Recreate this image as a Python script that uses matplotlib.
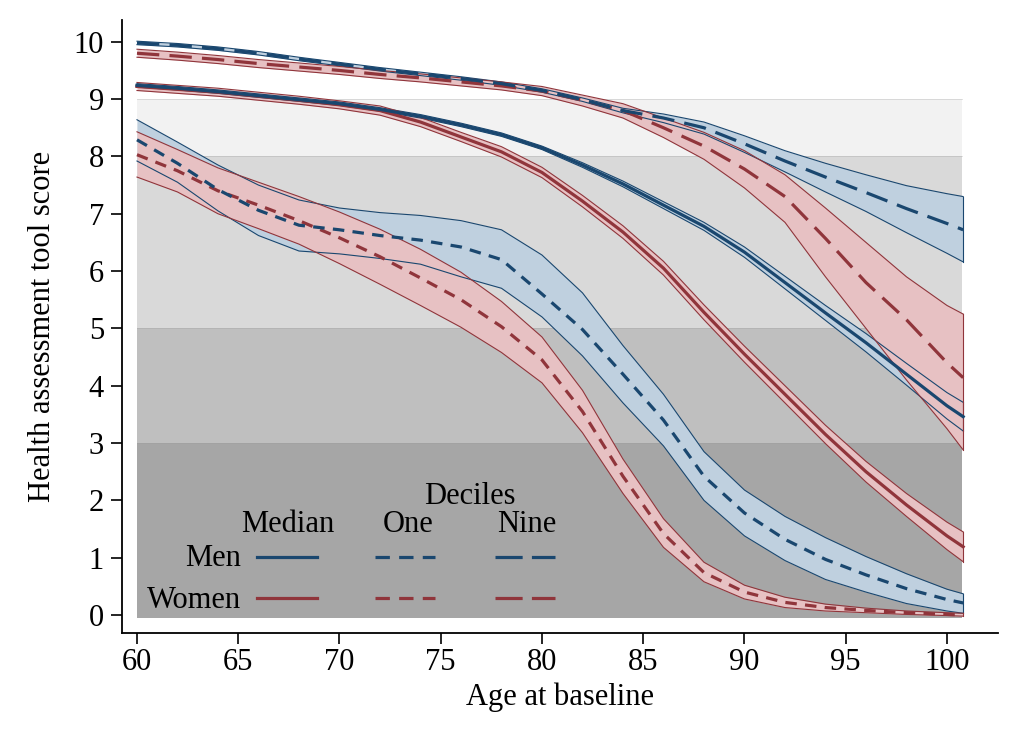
import numpy as np
import matplotlib
matplotlib.use("Agg")
import matplotlib.pyplot as plt
from matplotlib.lines import Line2D

plt.rcParams['font.family'] = ['Liberation Serif', 'DejaVu Serif']

# ---------------- data ----------------
age = [60, 62, 64, 66, 68, 70, 72, 74, 76, 78, 80, 82, 84, 86, 88, 90, 92, 94, 96, 98, 100, 100.8]

men_median = [9.24, 9.19, 9.13, 9.06, 8.99, 8.92, 8.82, 8.70, 8.55, 8.38, 8.15, 7.85, 7.52, 7.15, 6.78, 6.33, 5.80, 5.27, 4.75, 4.20, 3.65, 3.46]
men_median_hw = [0.03, 0.03, 0.03, 0.03, 0.03, 0.03, 0.03, 0.03, 0.03, 0.03, 0.03, 0.04, 0.05, 0.06, 0.07, 0.09, 0.11, 0.13, 0.16, 0.19, 0.23, 0.25]

women_median = [9.22, 9.17, 9.12, 9.05, 8.98, 8.90, 8.80, 8.60, 8.34, 8.08, 7.72, 7.22, 6.68, 6.05, 5.28, 4.55, 3.85, 3.15, 2.50, 1.92, 1.38, 1.19]
women_median_hw = [0.07, 0.07, 0.07, 0.07, 0.07, 0.07, 0.08, 0.08, 0.08, 0.09, 0.09, 0.10, 0.11, 0.12, 0.13, 0.14, 0.15, 0.16, 0.18, 0.20, 0.24, 0.26]

men_d1 = [8.29, 7.88, 7.42, 7.06, 6.80, 6.72, 6.62, 6.54, 6.42, 6.20, 5.60, 4.98, 4.20, 3.40, 2.42, 1.78, 1.32, 0.97, 0.70, 0.46, 0.27, 0.21]
men_d1_hi = [8.64, 8.25, 7.85, 7.50, 7.24, 7.10, 7.02, 6.97, 6.88, 6.72, 6.28, 5.62, 4.70, 3.85, 2.85, 2.18, 1.72, 1.35, 1.02, 0.72, 0.45, 0.37]
men_d1_lo = [7.92, 7.55, 7.05, 6.62, 6.35, 6.30, 6.22, 6.12, 5.90, 5.70, 5.20, 4.52, 3.70, 2.95, 2.00, 1.38, 0.95, 0.62, 0.40, 0.20, 0.07, 0.03]

women_d1 = [8.03, 7.75, 7.40, 7.15, 6.88, 6.58, 6.25, 5.88, 5.50, 5.03, 4.45, 3.55, 2.42, 1.42, 0.74, 0.40, 0.22, 0.13, 0.08, 0.04, 0.01, 0.00]
women_d1_hi = [8.43, 8.12, 7.80, 7.55, 7.30, 7.03, 6.73, 6.38, 5.98, 5.47, 4.85, 3.92, 2.72, 1.68, 0.92, 0.52, 0.31, 0.19, 0.12, 0.07, 0.04, 0.03]
women_d1_lo = [7.64, 7.38, 7.00, 6.74, 6.47, 6.13, 5.77, 5.40, 5.02, 4.58, 4.05, 3.18, 2.12, 1.18, 0.58, 0.28, 0.13, 0.07, 0.04, 0.01, -0.01, -0.02]

men_d9 = [9.98, 9.94, 9.88, 9.80, 9.70, 9.61, 9.52, 9.44, 9.36, 9.27, 9.15, 8.99, 8.80, 8.67, 8.50, 8.22, 7.92, 7.64, 7.37, 7.09, 6.83, 6.72]
men_d9_hi = [10.01, 9.97, 9.91, 9.83, 9.73, 9.64, 9.55, 9.47, 9.39, 9.30, 9.18, 9.02, 8.84, 8.74, 8.60, 8.36, 8.10, 7.88, 7.68, 7.49, 7.35, 7.30]
men_d9_lo = [9.95, 9.91, 9.85, 9.77, 9.67, 9.58, 9.49, 9.41, 9.33, 9.24, 9.12, 8.96, 8.76, 8.59, 8.39, 8.07, 7.73, 7.38, 7.04, 6.67, 6.31, 6.16]

women_d9 = [9.80, 9.75, 9.69, 9.62, 9.56, 9.50, 9.43, 9.37, 9.30, 9.23, 9.14, 8.98, 8.80, 8.50, 8.18, 7.78, 7.30, 6.57, 5.80, 5.15, 4.40, 4.14]
women_d9_hi = [9.87, 9.82, 9.76, 9.69, 9.63, 9.57, 9.50, 9.44, 9.37, 9.30, 9.22, 9.07, 8.92, 8.67, 8.42, 8.10, 7.68, 7.10, 6.50, 5.90, 5.40, 5.25]
women_d9_lo = [9.73, 9.68, 9.62, 9.55, 9.49, 9.43, 9.36, 9.30, 9.23, 9.16, 9.06, 8.88, 8.67, 8.33, 7.95, 7.45, 6.85, 5.90, 5.00, 4.10, 3.25, 2.88]

# background score bands
band_bounds = [-0.05, 3, 5, 8, 9]
band_colors = ['#a6a6a6', '#bfbfbf', '#d9d9d9', '#f2f2f2']
band_x = [60, 100.75]

x_ticks = [60, 65, 70, 75, 80, 85, 90, 95, 100]
y_ticks = [0, 1, 2, 3, 4, 5, 6, 7, 8, 9, 10]

# ---------------- styling ----------------
BLUE = '#1a476f'
RED = '#90353b'
BLUE_FILL = '#bfd0df'
RED_FILL = '#e7c1c3'
LW = 2.3
SHORT = (3.6, 2.6)
LONG = (7.0, 3.2)

fig = plt.figure(figsize=(10.24, 7.45), dpi=100)
ax = fig.add_axes([122 / 1024, 112 / 745, 876 / 1024, 613 / 745])

for i, c in enumerate(band_colors):
    ax.fill_between(band_x, band_bounds[i], band_bounds[i + 1], color=c, lw=0, zorder=0)
    ax.plot(band_x, [band_bounds[i + 1]] * 2, color='#9a9a9a', lw=0.6, alpha=0.35, zorder=0.5)

x = np.array(age)


def band(lo, hi, fill, edge):
    ax.fill_between(x, lo, hi, color=fill, lw=0, zorder=1)
    ax.plot(x, lo, color=edge, lw=0.8, zorder=1.1)
    ax.plot(x, hi, color=edge, lw=0.8, zorder=1.1)
    ax.plot([x[-1], x[-1]], [lo[-1], hi[-1]], color=edge, lw=0.8, zorder=1.1)


mm = np.array(men_median); mhw = np.array(men_median_hw)
wm = np.array(women_median); whw = np.array(women_median_hw)

# blue bands first, red bands over them
band(mm - mhw, mm + mhw, BLUE_FILL, BLUE)
band(men_d1_lo, men_d1_hi, BLUE_FILL, BLUE)
band(men_d9_lo, men_d9_hi, BLUE_FILL, BLUE)
band(wm - whw, wm + whw, RED_FILL, RED)
band(women_d1_lo, women_d1_hi, RED_FILL, RED)
band(women_d9_lo, women_d9_hi, RED_FILL, RED)

ax.plot(x, women_median, color=RED, lw=LW, zorder=3)
ax.plot(x, women_d1, color=RED, lw=LW, dashes=SHORT, zorder=3)
ax.plot(x, women_d9, color=RED, lw=LW, dashes=LONG, zorder=3)
ax.plot(x, men_median, color=BLUE, lw=LW, zorder=3.1)
ax.plot(x, men_d1, color=BLUE, lw=LW, dashes=SHORT, zorder=3.1)
ax.plot(x, men_d9, color=BLUE, lw=LW, dashes=LONG, zorder=3.1)

ax.set_xlim(59.26, 102.52)
ax.set_ylim(-0.314, 10.38)
ax.set_xticks(x_ticks)
ax.set_yticks(y_ticks)
for s in ['top', 'right']:
    ax.spines[s].set_visible(False)
for s in ['left', 'bottom']:
    ax.spines[s].set_linewidth(1.3)
ax.tick_params(axis='both', direction='out', length=8, width=1.2, labelsize=22, colors='black')
ax.tick_params(axis='y', pad=5)
ax.tick_params(axis='x', pad=3)
ax.set_xlabel('Age at baseline', fontsize=22, labelpad=4)
ax.set_ylabel('Health assessment tool score', fontsize=22, labelpad=12)

# ---------------- legend (figure pixel layout) ----------------
W, H = 1024, 745


def fx(px):
    return px / W


def fy(py):
    return (H - py) / H


tf = fig.transFigure
fs = 22
fig.text(fx(470), fy(496), 'Deciles', ha='center', va='center', fontsize=fs, transform=tf)
fig.text(fx(288), fy(524), 'Median', ha='center', va='center', fontsize=fs, transform=tf)
fig.text(fx(408), fy(524), 'One', ha='center', va='center', fontsize=fs, transform=tf)
fig.text(fx(527), fy(524), 'Nine', ha='center', va='center', fontsize=fs, transform=tf)
fig.text(fx(241), fy(558), 'Men', ha='right', va='center', fontsize=fs, transform=tf)
fig.text(fx(241), fy(600), 'Women', ha='right', va='center', fontsize=fs, transform=tf)

for py, col in [(557, BLUE), (598, RED)]:
    for (x0, x1), d in [((257, 317), None), ((375, 435), (4.5, 2.9)), ((495, 555), (8.5, 2.9))]:
        ln = Line2D([fx(x0), fx(x1)], [fy(py), fy(py)], color=col, lw=LW, transform=tf)
        if d is not None:
            ln.set_dashes(d)
        fig.add_artist(ln)

fig.savefig('out.png', dpi=100)
